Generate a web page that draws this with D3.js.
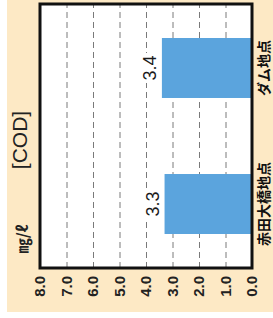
<!DOCTYPE html>
<html>
<head>
<meta charset="utf-8">
<script src="https://cdn.jsdelivr.net/npm/d3@7"></script>
<style>
  body { margin: 0; background: #fff; }
  svg { display: block; }
</style>
</head>
<body>
<div id="chart"></div>
<script>
// data
var categories = ["赤田大橋地点", "ダム地点"]
var values = [3.3, 3.4]
var valueLabels = ["3.3", "3.4"]
var ticks = [0, 1, 2, 3, 4, 5, 6, 7, 8]

var width = 273
var height = 318

var svg = d3.select("#chart").append("svg")
  .attr("width", width)
  .attr("height", height)

// cream panel
svg.append("rect")
  .attr("x", 7).attr("y", 0)
  .attr("width", width - 7).attr("height", 312)
  .attr("fill", "#fde9c5")

// the whole chart is drawn upright, then turned a quarter left
var g = svg.append("g")
  .attr("transform", "translate(0," + height + ") rotate(-90)")

// inner coords: x = 318 - screenY, y = screenX
var frame = {left: 50, right: 314, top: 40, bottom: 252}

var x = d3.scaleBand()
  .domain(categories)
  .range([frame.left, frame.right])
  .paddingInner(0.559)
  .paddingOuter(0.25)

var y = d3.scaleLinear()
  .domain([0, 8])
  .range([frame.bottom, frame.top])

// plot background
g.append("rect")
  .attr("x", frame.left).attr("y", frame.top)
  .attr("width", frame.right - frame.left)
  .attr("height", frame.bottom - frame.top)
  .attr("fill", "#fff")

// grid
g.append("g")
  .selectAll("line")
  .data(ticks.filter(function(d){ return d > 0 && d < 8 }))
  .enter().append("line")
  .attr("x1", frame.left).attr("x2", frame.right)
  .attr("y1", function(d){ return y(d) + 0.5 })
  .attr("y2", function(d){ return y(d) + 0.5 })
  .attr("stroke", "#7a7a7a")
  .attr("stroke-width", 1)
  .attr("stroke-dasharray", "6,4")

// bars
g.append("g")
  .selectAll("rect")
  .data(values)
  .enter().append("rect")
  .attr("x", function(d, i){ return x(categories[i]) })
  .attr("width", x.bandwidth())
  .attr("y", function(d){ return y(d) })
  .attr("height", function(d){ return y(0) - y(d) })
  .attr("fill", "#5ba4dd")

// value labels with white backing so the grid is cut
var lab = g.append("g")
  .selectAll("g")
  .data(values)
  .enter().append("g")
  .attr("transform", function(d, i){
    return "translate(" + (x(categories[i]) + x.bandwidth() / 2) + "," + (y(d) - 6) + ")"
  })
lab.append("rect")
  .attr("x", -15).attr("y", -14)
  .attr("width", 30).attr("height", 15)
  .attr("fill", "#fff")
lab.append("text")
  .attr("text-anchor", "middle")
  .attr("font-family", "Liberation Sans, Arial, sans-serif")
  .attr("font-size", 18)
  .attr("fill", "#1a1a1a")
  .text(function(d, i){ return valueLabels[i] })

// frame
g.append("rect")
  .attr("x", frame.left).attr("y", frame.top)
  .attr("width", frame.right - frame.left)
  .attr("height", frame.bottom - frame.top)
  .attr("fill", "none")
  .attr("stroke", "#111")
  .attr("stroke-width", 3)

// value axis
var axis = g.append("g")
  .attr("transform", "translate(" + frame.left + ",0)")
  .call(d3.axisLeft(y).tickValues(ticks).tickSize(0).tickPadding(8)
    .tickFormat(d3.format(".1f")))
axis.select(".domain").remove()
axis.selectAll("text")
  .attr("font-family", "Liberation Sans, Arial, sans-serif")
  .attr("font-size", 15)
  .attr("font-weight", "bold")
  .attr("fill", "#222")

// category labels
var cat = g.append("g")
  .attr("transform", "translate(0," + frame.bottom + ")")
  .call(d3.axisBottom(x).tickSize(0).tickPadding(7))
cat.select(".domain").remove()
cat.selectAll("text")
  .attr("font-family", "Noto Sans CJK JP, sans-serif")
  .attr("font-size", 14)
  .attr("font-weight", "bold")
  .attr("fill", "#111")

// title and unit on the outer side
g.append("text")
  .attr("x", 318 - 140).attr("y", 27)
  .attr("text-anchor", "middle")
  .attr("font-family", "Liberation Sans, Arial, sans-serif")
  .attr("font-size", 21)
  .attr("fill", "#222")
  .text("[COD]")

g.append("text")
  .attr("x", 318 - 239).attr("y", 28)
  .attr("text-anchor", "middle")
  .attr("font-family", "Noto Sans CJK JP, sans-serif")
  .attr("font-size", 15)
  .attr("font-weight", "bold")
  .attr("fill", "#222")
  .text("㎎/ℓ")
</script>
</body>
</html>
